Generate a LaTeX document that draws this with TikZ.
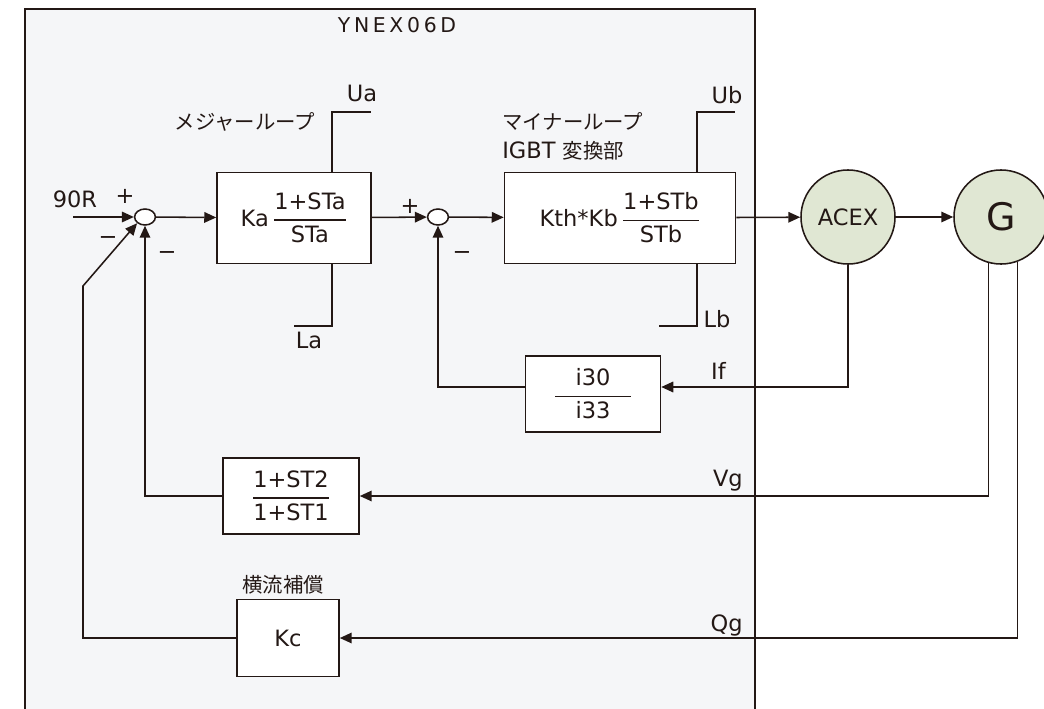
\documentclass[tikz,border=0pt]{standalone}
\usepackage{amsmath}
\usepackage{fontspec}
\setmainfont{DejaVu Sans}
\newfontfamily\jpfont{Noto Sans CJK JP}
\usepackage{tikz}
\usetikzlibrary{positioning,arrows.meta,shapes.geometric,calc}
\definecolor{InkBlack}{RGB}{35,24,21}
\definecolor{PanelGray}{RGB}{245,246,248}
\definecolor{MachineGreen}{RGB}{224,231,211}
\tikzset{
  blk/.style={draw=InkBlack, line width=1.1pt, fill=white, inner sep=0pt, align=center, text=InkBlack},
  sumpt/.style={ellipse, draw=InkBlack, line width=1.1pt, fill=white, minimum width=0.52cm,
    minimum height=0.4cm, inner sep=0pt},
  mach/.style={circle, draw=InkBlack, line width=1.1pt, fill=MachineGreen, minimum size=2.35cm,
    inner sep=0pt, text=InkBlack},
  sig/.style={-{Triangle[length=8.5pt,width=7.5pt]}, line width=1.1pt, InkBlack},
  wire/.style={line width=1.1pt, InkBlack},
  lbl/.style={text=InkBlack, inner sep=0pt},
  jplbl/.style={lbl, font=\jpfont\fontsize{14.5}{17}\selectfont},
  sgn/.style={text=InkBlack, inner sep=0pt, font=\fontsize{16}{18}\selectfont},
}
\newcommand{\blkfrac}[2]{\ensuremath{\genfrac{}{}{0.9pt}{0}{\text{#1}}{\text{#2}}}}

\begin{document}
\begin{tikzpicture}[x=0.025cm, y=-0.025cm, font=\fontsize{16}{19}\selectfont]
  \useasboundingbox (0,0) rectangle (1044,709);
  % panel of the controller
  \draw[wire, fill=PanelGray] (25,9) rectangle (755,740);
  \node[lbl, anchor=base, font=\fontsize{14.5}{17}\selectfont] (title) at (397,33)
    {\addfontfeatures{LetterSpace=18}YNEX06D};

  \node[sumpt] (sumA) at (145,217) {};
  \node[sumpt] (sumB) at (438,217) {};
  \node[blk, minimum width=3.85cm, minimum height=2.275cm] (major) at (294,218) {Ka\,\blkfrac{1+STa}{STa}};
  \node[blk, minimum width=5.775cm, minimum height=2.275cm] (minor) at (620,218) {Kth*Kb\,\blkfrac{1+STb}{STb}};
  \node[mach] (acex) at (848,217) {ACEX};
  \node[mach, font=\fontsize{27}{30}\selectfont] (gen) at (1001,217) {G};
  \node[blk, minimum width=3.375cm, minimum height=1.9cm] (ifblk) at (593,394) {\blkfrac{\makebox[1.9cm]{i30}}{i33}};
  \node[blk, minimum width=3.4cm, minimum height=1.9cm] (lead) at (291,496) {\blkfrac{1+ST2}{1+ST1}};
  \node[blk, minimum width=2.55cm, minimum height=1.925cm] (cross) at (288,638) {Kc};

  % labels
  \node[lbl, anchor=base] (refin) at (75,207) {90R};
  \node[jplbl] (majlbl) at (245,122) {メジャーループ};
  \node[jplbl, anchor=west] (minlbl) at (502,121) {マイナーループ};
  \node[lbl, anchor=west] (igbtlbl) at (502,151) {IGBT {\jpfont\fontsize{14.5}{17}\selectfont 変換部}};
  \node[jplbl] (crosslbl) at (283,585) {横流補償};
  \foreach \n/\t/\x/\y in {ua/Ua/362/102, la/La/309/348, ub/Ub/727/104, lb/Lb/717/327}
    \node[lbl, anchor=base] (\n lbl) at (\x,\y) {\t};
  \foreach \n/\t/\x/\y in {iff/If/726/379, vg/Vg/743/486, qg/Qg/743/631}
    \node[lbl, anchor=base east] (\n lbl) at (\x,\y) {\t};
  \foreach \n/\t/\x/\y in {pa/+/125/196, ma/−/108/241, mb/−/167/256, pb/+/410/206, mc/−/462/256}
    \node[sgn] (\n) at (\x,\y) {\t};

  % limits
  \coordinate (uaend) at (371,112);
  \coordinate (laend) at (294,326);
  \coordinate (ubend) at (735,112);
  \coordinate (lbend) at (659,326);
  \draw[wire] ([xshift=0.95cm]major.north) |- (uaend);
  \draw[wire] ([xshift=0.95cm]major.south) |- (laend);
  \draw[wire] ([xshift=1.925cm]minor.north) |- (ubend);
  \draw[wire] ([xshift=1.925cm]minor.south) |- (lbend);

  % forward path
  \coordinate (refst) at (73,217);
  \draw[sig] (refst) -- (sumA);
  \draw[sig] (sumA) -- (major);
  \draw[sig] (major) -- (sumB);
  \draw[sig] (sumB) -- (minor);
  \draw[sig] (minor) -- (acex);
  \draw[sig] (acex) -- (gen);

  % feedback paths
  \coordinate (kink) at (83,286);
  \draw[sig] (acex.south) |- ([yshift=0.175cm]ifblk.east);
  \draw[sig] ([yshift=0.175cm]ifblk.west) -| (sumB.south);
  \draw[sig] (gen.255) |- (lead.east);
  \draw[sig] (lead.west) -| (sumA.south);
  \draw[sig] (gen.290) |- (cross.east);
  \draw[sig] (cross.west) -| (kink) -- (sumA.south west);
\end{tikzpicture}
\end{document}
